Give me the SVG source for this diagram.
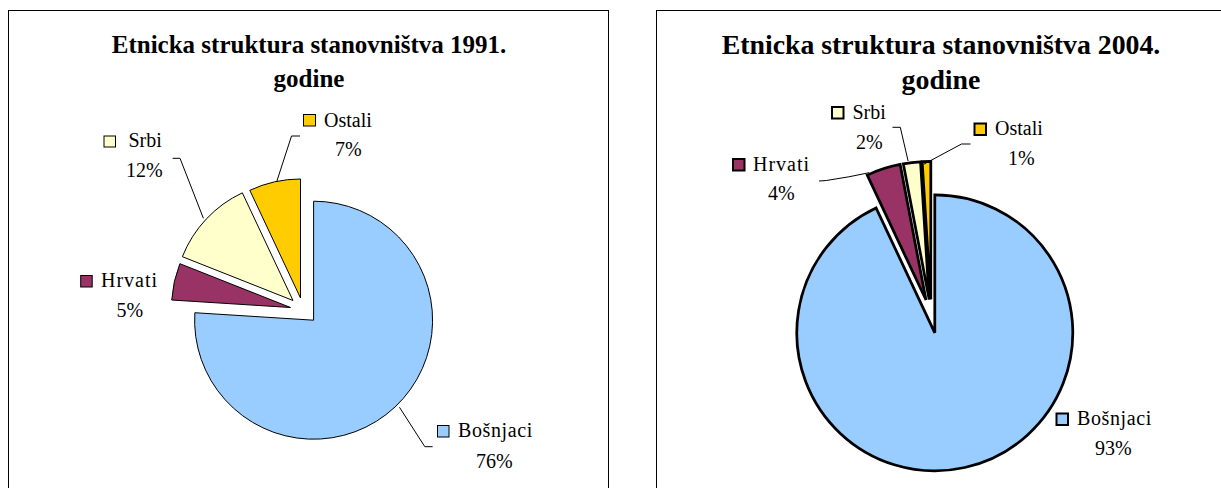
<svg xmlns="http://www.w3.org/2000/svg" width="1221" height="488" viewBox="0 0 1221 488">
<style>
.frame{fill:#fff;stroke:#000;stroke-width:1}
.s1{stroke:#000;stroke-width:1;stroke-linejoin:miter}
.s2{stroke:#000;stroke-width:2.75;stroke-linejoin:miter}
.k1{stroke:#000;stroke-width:1}
.k2{stroke:#000;stroke-width:2}
.bos{fill:#99CCFF}.hrv{fill:#993366}.srb{fill:#FFFFCC}.ost{fill:#FFCC00}
.lead{fill:none;stroke:#000;stroke-width:1}
</style>
<rect width="1221" height="488" fill="#fff"/>
<g id="chart1991">
  <rect class="frame" x="8.5" y="10.5" width="600" height="500"/>
  <g font-family="Liberation Serif" font-weight="bold" font-size="25" text-anchor="middle" fill="#000">
    <text x="309" y="53">Etnicka struktura stanovništva 1991.</text>
    <text x="309" y="86.5">godine</text>
  </g>
  <g id="p1-bosnjaci"><path class="bos s1" d="M313.6,320.2 L313.6,201.2 A119,119 0 1 1 194.83,312.73 Z"/></g>
  <g id="p1-hrvati"><path class="hrv s1" d="M290.5,307.5 L171.73,300.03 A119,119 0 0 1 179.86,263.69 Z"/></g>
  <g id="p1-srbi"><path class="srb s1" d="M293,300.5 L182.36,256.69 A119,119 0 0 1 242.33,192.83 Z"/></g>
  <g id="p1-ostali"><path class="ost s1" d="M300.5,298 L249.83,190.33 A119,119 0 0 1 300.5,179 Z"/></g>
  <g font-family="Liberation Serif" font-size="20" fill="#000">
    <g id="l1-ostali"><rect class="ost k1" x="303.5" y="114.5" width="12" height="11.5"/><text x="324" y="126.5">Ostali</text><text x="335" y="156">7%</text></g>
    <g id="l1-srbi"><rect class="srb k1" x="104" y="136" width="11.5" height="11"/><text x="128.5" y="147">Srbi</text><text x="126" y="177">12%</text></g>
    <g id="l1-hrvati"><rect class="hrv k1" x="80.7" y="275.5" width="11.5" height="11.5"/><text x="101" y="287" letter-spacing="1">Hrvati</text><text x="116.5" y="317">5%</text></g>
    <g id="l1-bosnjaci"><rect class="bos k1" x="437.5" y="425.5" width="11.5" height="11.5"/><text x="458" y="437" letter-spacing="0.6">Bošnjaci</text><text x="476" y="467.5">76%</text></g>
  </g>
</g>
<g id="chart2004">
  <rect class="frame" x="656.5" y="10.5" width="640" height="500"/>
  <g font-family="Liberation Serif" font-weight="bold" font-size="27.8" text-anchor="middle" fill="#000">
    <text x="941" y="54">Etnicka struktura stanovništva 2004.</text>
    <text x="941" y="89">godine</text>
  </g>
  <g id="p2-bosnjaci"><path class="bos s2" d="M934.8,332.8 L934.8,194.8 A138,138 0 1 1 876.04,207.93 Z"/></g>
  <g id="p2-hrvati"><path class="hrv s2" d="M926,300 L867.24,175.13 A138,138 0 0 1 900.14,164.44 Z"/></g>
  <g id="p2-srbi"><path class="srb s2" d="M929.2,299.5 L903.34,163.94 A138,138 0 0 1 920.53,161.77 Z"/></g>
  <g id="p2-ostali"><path class="ost s2" d="M930.8,299.4 L922.13,161.67 A138,138 0 0 1 930.8,161.4 Z"/></g>
  <g font-family="Liberation Serif" font-size="20" fill="#000">
    <g id="l2-srbi"><rect class="srb k2" x="832" y="107" width="11.5" height="11.5"/><text x="852.5" y="118.5">Srbi</text><text x="856" y="148.5">2%</text></g>
    <g id="l2-ostali"><rect class="ost k2" x="974.5" y="123.5" width="11.5" height="11.5"/><text x="995" y="135">Ostali</text><text x="1008" y="165">1%</text></g>
    <g id="l2-hrvati"><rect class="hrv k2" x="733" y="159" width="11.5" height="11.5"/><text x="753" y="170.5" letter-spacing="1">Hrvati</text><text x="768" y="200">4%</text></g>
    <g id="l2-bosnjaci"><rect class="bos k2" x="1056.5" y="413.5" width="11.5" height="11.5"/><text x="1077" y="424.5" letter-spacing="0.6">Bošnjaci</text><text x="1095" y="454.5">93%</text></g>
  </g>
</g>
<g id="connectors">
  <polyline class="lead" points="300,136 291.5,136 276.7,181.7"/>
  <polyline class="lead" points="172.6,158.3 180,158.3 203.4,218.3"/>
  <polyline class="lead" points="399.5,407.3 424.8,446.7 432.6,446.7"/>
  <path class="lead" d="M819,181 L826.3,180.5 Q850,177 869.2,172.7"/>
  <polyline class="lead" points="892.5,127.3 900.3,127.3 908.1,161"/>
  <polyline class="lead" points="970.5,144 961.5,144 923.7,164.3"/>
</g>
</svg>
